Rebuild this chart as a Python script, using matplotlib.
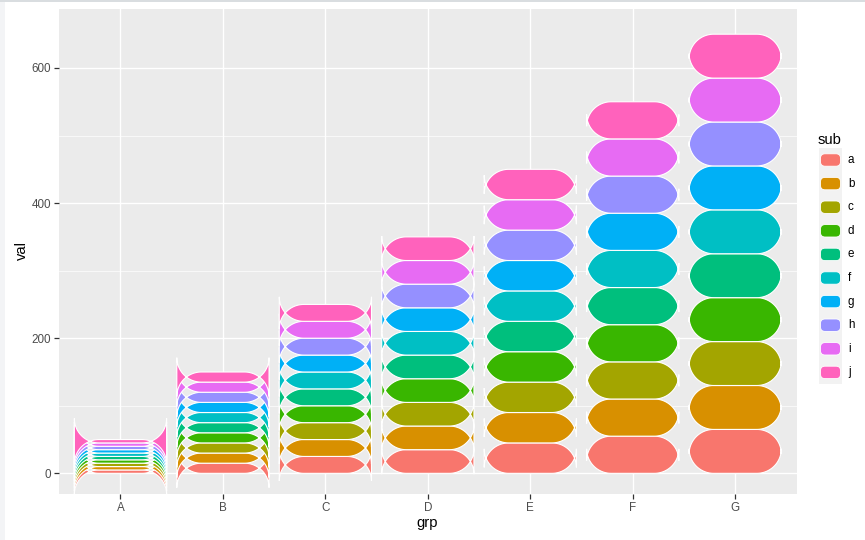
import numpy as np
import matplotlib
matplotlib.use('Agg')
import matplotlib.pyplot as plt
from matplotlib.path import Path
from matplotlib.patches import PathPatch, FancyBboxPatch, Rectangle

plt.rcParams['font.family'] = ['Liberation Sans', 'DejaVu Sans']

# data: every sub has the same share inside a group
groups = ['A', 'B', 'C', 'D', 'E', 'F', 'G']
subs = ['a', 'b', 'c', 'd', 'e', 'f', 'g', 'h', 'i', 'j']
seg_val = [5, 15, 25, 35, 45, 55, 65]
sub_colors = ['#F8766D', '#D89000', '#A3A500', '#39B600', '#00BF7D',
              '#00BFC4', '#00B0F6', '#9590FF', '#E76BF3', '#FF62BC']
y_ticks = [0, 200, 400, 600]
y_minor = [100, 300, 500]

W, H = 865, 540
fig = plt.figure(figsize=(W / 100, H / 100), dpi=100)

# panel placed in pixels (left, top, right, bottom)
pl, pt, pr, pb = 59, 9, 796.7, 494
ax = fig.add_axes([pl / W, 1 - pb / H, (pr - pl) / W, (pb - pt) / H])
ax.set_xlim(-0.6, len(groups) - 1 + 0.6)
ax.set_ylim(-30.6, 687.3)
ax.set_facecolor('#EBEBEB')
for s in ax.spines.values():
    s.set_visible(False)

ax.set_xticks(range(len(groups)))
ax.set_xticklabels(groups)
ax.set_yticks(y_ticks)
ax.set_yticks(y_minor, minor=True)
ax.tick_params(axis='both', which='major', length=3.7, width=0.9, color='#333333',
               labelcolor='#4D4D4D', labelsize=8.4, pad=2.2)
ax.tick_params(axis='y', which='minor', length=0)
ax.grid(True, which='major', color='white', linewidth=1.0)
ax.grid(True, which='minor', axis='y', color='white', linewidth=0.5)
ax.set_axisbelow(True)


def chicklet(x0, y0, x1, y1, r, n=30):
    # rounded rectangle with a fixed pixel radius, even when the segment is too thin
    pts = [(x0 + r, y0), (x1 - r, y0)]
    for cx, cy, a0, a1 in [(x1 - r, y0 + r, -90, 0), (x1 - r, y1 - r, 0, 90),
                           (x0 + r, y1 - r, 90, 180), (x0 + r, y0 + r, 180, 270)]:
        t = np.radians(np.linspace(a0, a1, n))
        pts.extend(zip(cx + r * np.cos(t), cy + r * np.sin(t)))
    pts.append((x0 + r, y0))
    return np.array(pts)


radius = 24.5
width = 0.9
inv = ax.transData.inverted()
for gi, v in enumerate(seg_val):
    base = 0
    for si, c in enumerate(sub_colors):
        p0 = ax.transData.transform((gi - width / 2, base))
        p1 = ax.transData.transform((gi + width / 2, base + v))
        verts = inv.transform(chicklet(p0[0], p0[1], p1[0], p1[1], radius))
        ax.add_patch(PathPatch(Path(verts, closed=True), facecolor=c,
                               edgecolor='white', linewidth=0.8, zorder=2 + si * 0.01))
        base += v

# axis titles
fig.text(22 / W, 1 - 251 / H, 'val', rotation=90, ha='center', va='center', fontsize=10.6)
fig.text(427 / W, 1 - 523 / H, 'grp', ha='center', va='center', fontsize=10.6)

# legend and screenshot edges drawn in a pixel overlay
lax = fig.add_axes([0, 0, 1, 1], zorder=5)
lax.set_xlim(0, W)
lax.set_ylim(0, H)
lax.axis('off')
lax.add_patch(Rectangle((0, 0), 5, H, color='#F3F4F6', lw=0))
lax.add_patch(Rectangle((0, H - 1.5), W, 1.5, color='#D9DDE0', lw=0))

lax.text(818, H - 140, 'sub', ha='left', va='center', fontsize=10.6)
key_top, key_h, key_w, key_x = 148.2, 23.6, 23, 819
for si, (s, c) in enumerate(zip(subs, sub_colors)):
    yc = key_top + key_h * (si + 0.5)
    lax.add_patch(Rectangle((key_x, H - yc - key_h / 2), key_w, key_h,
                            facecolor='#F2F2F2', edgecolor='none'))
    lax.add_patch(FancyBboxPatch((key_x + 1.5, H - yc - 6.2), key_w - 3, 12.4,
                                 boxstyle='round,pad=0,rounding_size=4.5',
                                 facecolor=c, edgecolor='white', linewidth=0.6))
    lax.text(848, H - yc, s, ha='left', va='center', fontsize=8.4)

fig.savefig('out.png', dpi=100)
